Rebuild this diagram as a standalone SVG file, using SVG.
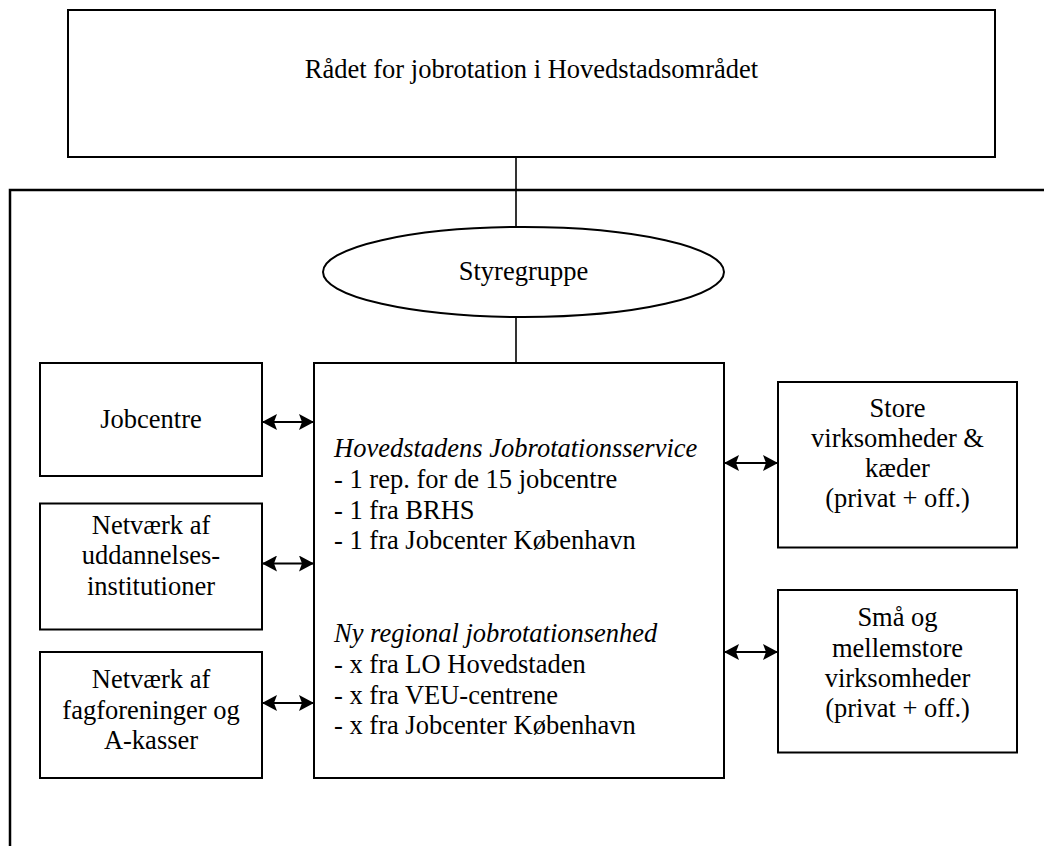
<svg xmlns="http://www.w3.org/2000/svg" width="1044" height="846" viewBox="0 0 1044 846" font-family="'Liberation Serif', 'Times New Roman', 'DejaVu Serif', serif">
<style>
  .box { fill: #ffffff; stroke: #000000; stroke-width: 2; }
  .frame { fill: none; stroke: #000000; stroke-width: 2.5; }
  .conn { fill: none; stroke: #000000; stroke-width: 1.6; }
  .arr { fill: none; stroke: #000000; stroke-width: 2; marker-start: url(#ah); marker-end: url(#ah); }
  .t { font-family: 'Liberation Serif', 'Times New Roman', 'DejaVu Serif', serif; font-size: 26.5px; fill: #000000; }
  .c { text-anchor: middle; }
  .i { font-style: italic; }
</style>
<defs>
  <marker id="ah" markerUnits="userSpaceOnUse" markerWidth="15" markerHeight="16" viewBox="0 0 15 16" refX="15" refY="8" orient="auto-start-reverse">
    <path d="M0,0 L15,8 L0,16 L3,8 Z" fill="#000000"/>
  </marker>
</defs>
<rect width="1044" height="846" fill="#ffffff"/>

<g id="frame">
  <path class="frame" d="M1044,190 H10 V846"/>
</g>

<g id="connectors">
  <line class="conn" x1="516" y1="157" x2="516" y2="227"/>
  <line class="conn" x1="516" y1="317" x2="516" y2="363"/>
  <line class="arr" x1="262" y1="422" x2="314" y2="422"/>
  <line class="arr" x1="262" y1="563.5" x2="314" y2="563.5"/>
  <line class="arr" x1="262" y1="703" x2="314" y2="703"/>
  <line class="arr" x1="724" y1="463" x2="778" y2="463"/>
  <line class="arr" x1="724" y1="652" x2="778" y2="652"/>
</g>

<g id="raadet">
  <rect class="box" x="68" y="10" width="927" height="147"/>
  <text class="t c" x="531.5" y="77.5">Rådet for jobrotation i Hovedstadsområdet</text>
</g>

<g id="styregruppe">
  <ellipse class="box" cx="523.5" cy="272" rx="200.5" ry="45"/>
  <text class="t c" x="523.5" y="280">Styregruppe</text>
</g>

<g id="jobcentre">
  <rect class="box" x="40" y="363" width="222" height="113"/>
  <text class="t c" x="151" y="428">Jobcentre</text>
</g>

<g id="uddannelse">
  <rect class="box" x="40" y="503.5" width="222" height="126"/>
  <text class="t c" x="151" y="533.5">Netværk af</text>
  <text class="t c" x="151" y="564">uddannelses-</text>
  <text class="t c" x="151" y="595">institutioner</text>
</g>

<g id="fagforeninger">
  <rect class="box" x="40" y="652" width="222" height="126"/>
  <text class="t c" x="151" y="687.5">Netværk af</text>
  <text class="t c" x="151" y="718.5">fagforeninger og</text>
  <text class="t c" x="151" y="748.5">A-kasser</text>
</g>

<g id="jobrotationsservice">
  <rect class="box" x="314" y="363" width="410" height="415"/>
  <text class="t i" x="334" y="457">Hovedstadens Jobrotationsservice</text>
  <text class="t" x="334" y="487.8">- 1 rep. for de 15 jobcentre</text>
  <text class="t" x="334" y="518.6">- 1 fra BRHS</text>
  <text class="t" x="334" y="549.4">- 1 fra Jobcenter København</text>
  <text class="t i" x="334" y="642">Ny regional jobrotationsenhed</text>
  <text class="t" x="334" y="672.8">- x fra LO Hovedstaden</text>
  <text class="t" x="334" y="703.6">- x fra VEU-centrene</text>
  <text class="t" x="334" y="734.4">- x fra Jobcenter København</text>
</g>

<g id="store">
  <rect class="box" x="778" y="382" width="239" height="165.5"/>
  <text class="t c" x="897.5" y="416.5">Store</text>
  <text class="t c" x="897.5" y="447">virksomheder &amp;</text>
  <text class="t c" x="897.5" y="477">kæder</text>
  <text class="t c" x="897.5" y="507">(privat + off.)</text>
</g>

<g id="smaa">
  <rect class="box" x="778" y="590" width="239" height="162.5"/>
  <text class="t c" x="897.5" y="626">Små og</text>
  <text class="t c" x="897.5" y="656.5">mellemstore</text>
  <text class="t c" x="897.5" y="686.5">virksomheder</text>
  <text class="t c" x="897.5" y="716.5">(privat + off.)</text>
</g>
</svg>
